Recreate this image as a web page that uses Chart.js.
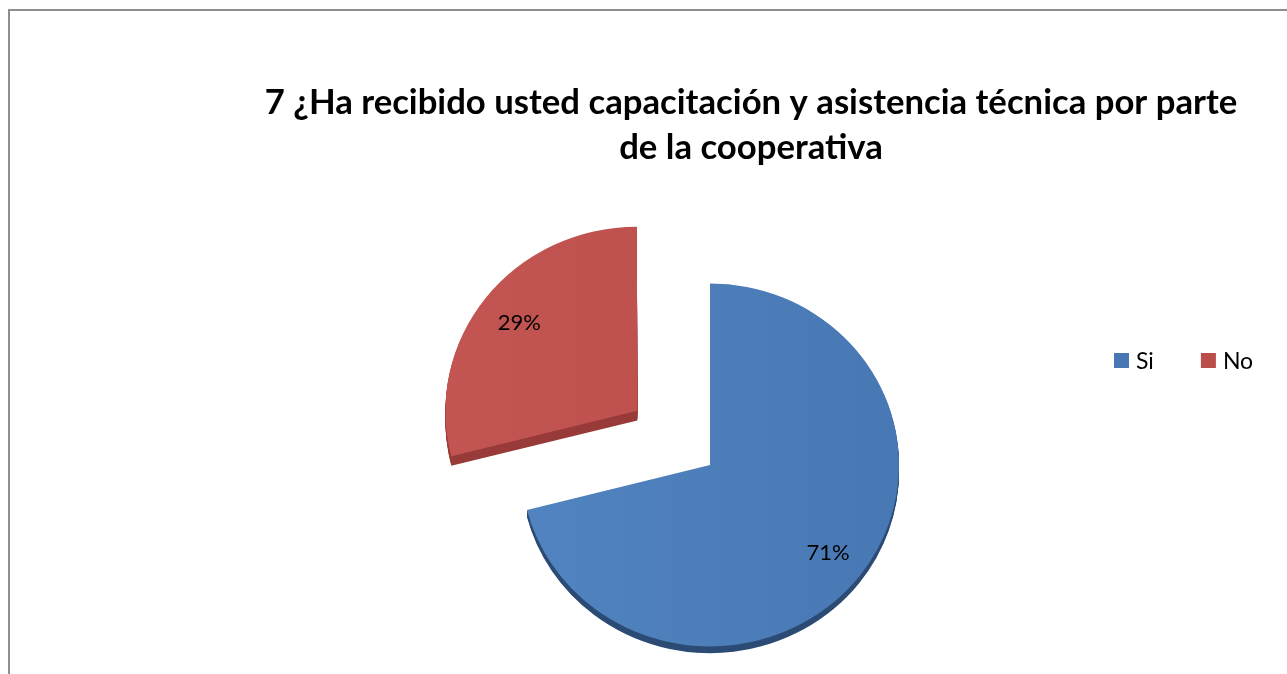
<!DOCTYPE html>
<html>
<head>
<meta charset="utf-8">
<script src="https://cdn.jsdelivr.net/npm/chart.js@4.4.0/dist/chart.umd.min.js"></script>
<style>
  html, body { margin: 0; padding: 0; overflow: hidden; background: #ffffff; }
  #frame { position: absolute; left: 8px; top: 9px; width: 1400px; height: 800px;
           border: 2px solid #8e8e8e; box-sizing: border-box; }
  #wrap { position: absolute; left: 0; top: 0; width: 1287px; height: 674px; }
  canvas { display: block; }
</style>
</head>
<body>
<div id="frame"></div>
<div id="wrap"><canvas id="chart" width="1287" height="674"></canvas></div>
<script>
// Survey answers (percent of respondents)
const categories = ['Si', 'No'];
const shares = [71, 29];
const titleLines = [
  '7 ¿Ha recibido usted capacitación y asistencia técnica por parte',
  'de la cooperativa'
];

// Styling
const faceLight = ['#5386c3', '#c45653'];
const faceDark  = ['#4878b3', '#bb4e4b'];
const rimColors = ['#2b4a74', '#973a38'];
const rimDepth  = [7, 10];
const explode   = [0, 368];     // arc offset (px); the "No" slice is pulled out
const PIE_RADIUS = 189;
const TILT = 0.96;              // slight vertical squash for a tilted look
const LABEL_RADIUS = 0.79;
const FONT = 'Lato, "Open Sans", sans-serif';

// Face gradient: a touch lighter on the left side
function faceFill(c) {
  const i = c.dataIndex ?? 0;
  const g = c.chart.ctx.createLinearGradient(440, 0, 910, 0);
  g.addColorStop(0, faceLight[i]);
  g.addColorStop(1, faceDark[i]);
  return g;
}

// Squash the pie vertically around its centre
const tiltPlugin = {
  id: 'tilt',
  beforeDatasetsDraw(chart) {
    const arc = chart.getDatasetMeta(0).data[0];
    const ctx = chart.ctx;
    ctx.save();
    ctx.translate(0, arc.y);
    ctx.scale(1, TILT);
    ctx.translate(0, -arc.y);
  },
  afterDatasetsDraw(chart) {
    chart.ctx.restore();
  }
};

// Dark extruded edge under each slice
const rimPlugin = {
  id: 'rim',
  beforeDatasetsDraw(chart) {
    const ctx = chart.ctx;
    chart.getDatasetMeta(0).data.forEach((arc, i) => {
      const saved = arc.options;
      arc.options = Object.assign({}, saved, { backgroundColor: rimColors[i], borderWidth: 0 });
      for (let d = 1; d <= rimDepth[i]; d++) {
        ctx.save();
        ctx.translate(0, d);
        arc.draw(ctx);
        ctx.restore();
      }
      arc.options = saved;
    });
  }
};

// Horizontal legend in a reserved box on the right
const LEGEND_X = 1114, LEGEND_Y = 360.5, LEGEND_BOX = 15, LEGEND_GAP = 7, LEGEND_ITEM_GAP = 47;
const sideLegend = {
  id: 'sideLegend',
  start(chart) {
    const box = {
      position: 'right', weight: 0, fullSize: false, options: {},
      left: 0, top: 0, right: 0, bottom: 0, width: 0, height: 0,
      isHorizontal() { return false; },
      update(maxWidth, maxHeight) { this.width = 82; this.height = maxHeight; },
      draw() {
        const ctx = chart.ctx;
        ctx.save();
        ctx.font = '23px ' + FONT;
        ctx.textBaseline = 'middle';
        ctx.textAlign = 'left';
        let x = LEGEND_X;
        chart.data.labels.forEach((lab, i) => {
          ctx.fillStyle = faceDark[i];
          ctx.fillRect(x, LEGEND_Y - LEGEND_BOX / 2, LEGEND_BOX, LEGEND_BOX);
          ctx.fillStyle = '#000000';
          ctx.fillText(lab, x + LEGEND_BOX + LEGEND_GAP, LEGEND_Y + 1);
          x += LEGEND_BOX + LEGEND_GAP + ctx.measureText(lab).width + LEGEND_ITEM_GAP;
        });
        ctx.restore();
      }
    };
    Chart.layouts.addBox(chart, box);
  }
};

// Percentage labels inside each slice
const valueLabels = {
  id: 'valueLabels',
  afterDatasetsDraw(chart) {
    const ctx = chart.ctx;
    const meta = chart.getDatasetMeta(0);
    ctx.save();
    ctx.font = '22px ' + FONT;
    ctx.fillStyle = '#000000';
    ctx.textAlign = 'center';
    ctx.textBaseline = 'middle';
    meta.data.forEach((arc, i) => {
      const p = arc.getProps(['x', 'y', 'startAngle', 'endAngle', 'outerRadius'], true);
      const mid = (p.startAngle + p.endAngle) / 2;
      const shift = (arc.options.offset || 0) / 4;
      const d = shift + p.outerRadius * LABEL_RADIUS;
      const px = p.x + Math.cos(mid) * d;
      const py = p.y + Math.sin(mid) * d * TILT;
      ctx.fillText(shares[i] + '%', px, py);
    });
    ctx.restore();
  }
};

new Chart(document.getElementById('chart'), {
  type: 'pie',
  data: {
    labels: categories,
    datasets: [{
      data: shares,
      backgroundColor: faceFill,
      borderWidth: 0,
      offset: explode,
      hoverOffset: 0,
      clip: false
    }]
  },
  options: {
    responsive: false,
    animation: false,
    events: [],
    radius: PIE_RADIUS,
    layout: { padding: { left: 215, right: 0, top: 80, bottom: 0 } },
    plugins: {
      legend: { display: false },
      tooltip: { enabled: false },
      title: {
        display: true,
        text: titleLines,
        color: '#000000',
        font: { family: FONT, weight: 'bold', size: 34.7, lineHeight: 45 / 34.7 },
        padding: { top: 0, bottom: 86 }
      }
    }
  },
  plugins: [tiltPlugin, rimPlugin, sideLegend, valueLabels]
});
</script>
</body>
</html>
